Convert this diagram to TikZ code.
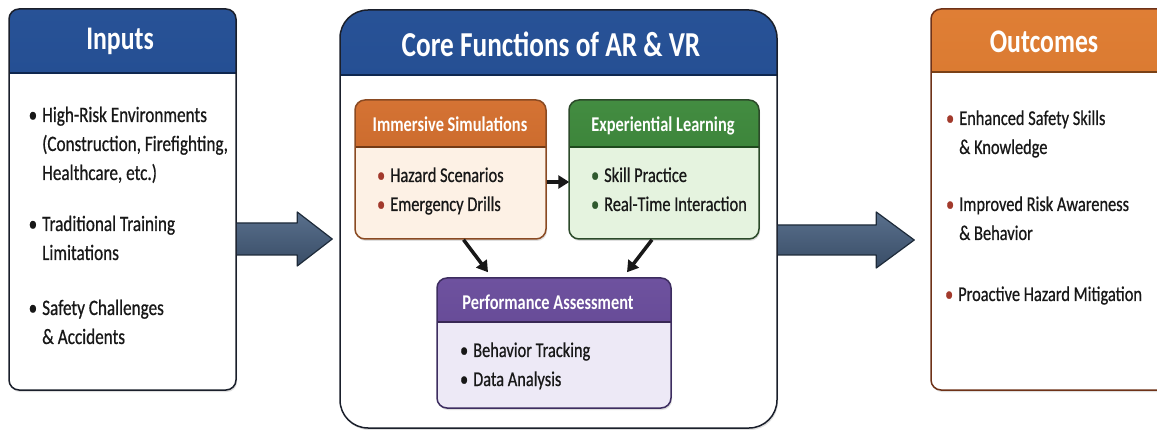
\documentclass[tikz,border=0pt]{standalone}
\usepackage{fontspec}
\setmainfont{Carlito}[FakeStretch=0.78, UprightFeatures={FakeBold=0.6}]
\usetikzlibrary{calc,fit,arrows.meta,shadows}

\definecolor{navyhdr}{HTML}{1A4790}
\definecolor{orangehdr}{HTML}{D26A27}
\definecolor{outhdr}{HTML}{DD7628}
\definecolor{greenhdr}{HTML}{378535}
\definecolor{purplehdr}{HTML}{654799}
\definecolor{orangebody}{HTML}{FDF1E5}
\definecolor{greenbody}{HTML}{E5F3DF}
\definecolor{purplebody}{HTML}{EDE9F6}
\definecolor{frame}{HTML}{1A1F2B}
\definecolor{orangeframe}{HTML}{8A4A22}
\definecolor{greenframe}{HTML}{2C4A2A}
\definecolor{purpleframe}{HTML}{3D2D60}
\definecolor{outframe}{HTML}{6E3218}
\definecolor{ink}{HTML}{181818}
\definecolor{redbullet}{HTML}{A23A2C}
\definecolor{greenbullet}{HTML}{2F5A2F}
\definecolor{slate}{HTML}{476080}
\definecolor{slatedark}{HTML}{1E2B3A}

% box with a coloured header band: name, corner, corner, header height,
% header colour, body colour, frame colour, corner radius
\newcommand\drawpanel[8]{%
  \node[panel, rounded corners=#8, draw=#7, fill=#6, fit={#2 #3},
    path picture={
      \shade[sharp corners, top color=#5!94!white, bottom color=#5!90!black]
        (path picture bounding box.north west) rectangle
        ([yshift=-#4]path picture bounding box.north east);
      \draw[sharp corners, #5!55!black, line width=1.6pt]
        ([yshift=-#4]path picture bounding box.north west) --
        ([yshift=-#4]path picture bounding box.north east);
    }] (#1) {};}

\newcommand\bl[1]{\llap{\textcolor{#1}{\textbullet}\hspace{5pt}}}

\tikzset{
  panel/.style={rectangle, inner sep=0pt, line width=1.5pt,
    drop shadow={shadow xshift=1pt, shadow yshift=-2pt, opacity=.25}},
  bigtitle/.style={anchor=base, inner sep=0pt, text=white, font=\fontsize{33}{38}\selectfont\bfseries},
  smalltitle/.style={anchor=base, inner sep=0pt, text=white, font=\fontsize{21}{25}\selectfont\bfseries},
  outeritem/.style={anchor=base west, inner sep=0pt, text=ink, font=\fontsize{22}{29}\selectfont},
  inneritem/.style={anchor=base west, inner sep=0pt, text=ink, font=\fontsize{21}{29}\selectfont},
  bigarrow/.style={line width=1.2pt, draw=slatedark, top color=slate!90!white, bottom color=slate!80!black, line join=round},
  flow/.style={line width=3.5pt, draw=ink, -{Triangle[length=11pt, width=13pt]}, shorten >=0pt},
}

\begin{document}
\begin{tikzpicture}[x=1pt, y=-1pt]
\useasboundingbox (0,0) rectangle (1157,430);

% outer panels
\drawpanel{inputs}{(9,9)}{(236,390)}{64pt}{navyhdr}{white}{frame}{10pt}
\drawpanel{core}{(340,10)}{(777,428)}{65pt}{navyhdr}{white}{frame}{28pt}
\drawpanel{outcomes}{(931,9)}{(1170,390)}{63pt}{outhdr}{white}{outframe}{10pt}

% big flow arrows between the panels
\coordinate (a1s) at (inputs.east |- 0,239);
\coordinate (a1t) at ($(core.west |- 0,239)+(-7,0)$);
\coordinate (a2s) at (core.east |- 0,240);
\coordinate (a2t) at ($(outcomes.west |- 0,240)+(-16,0)$);
\path[bigarrow] ($(a1s)+(0,-16)$) -- ($(a1t)+(-35,-16)$) -- ($(a1t)+(-35,-27)$) -- (a1t)
  -- ($(a1t)+(-35,27)$) -- ($(a1t)+(-35,16)$) -- ($(a1s)+(0,16)$);
\path[bigarrow] ($(a2s)+(0,-15)$) -- ($(a2t)+(-38,-15)$) -- ($(a2t)+(-38,-28)$) -- (a2t)
  -- ($(a2t)+(-38,28)$) -- ($(a2t)+(-38,15)$) -- ($(a2s)+(0,15)$);

% inner panels
\drawpanel{sim}{(355,100)}{(546,239)}{47pt}{orangehdr}{orangebody}{orangeframe}{10pt}
\drawpanel{learn}{(569,100)}{(759,239)}{47pt}{greenhdr}{greenbody}{greenframe}{10pt}
\drawpanel{assess}{(437,278)}{(671,408)}{44pt}{purplehdr}{purplebody}{purpleframe}{10pt}

% connectors between the inner panels
\draw[flow] (sim.east |- 0,182) -- ($(learn.west |- 0,182)+(1,0)$);
\draw[flow] ([xshift=13pt]sim.south) -- ([xshift=-66pt, yshift=5pt]assess.north);
\draw[flow] ([xshift=-12pt]learn.south) -- ([xshift=73pt, yshift=5pt]assess.north);

% titles
\node[bigtitle] (t-in) at (120,50) {Inputs};
\node[bigtitle, font=\fontsize{35}{40}\selectfont\bfseries] (t-core) at (551,57) {Core Functions of AR \& VR};
\node[bigtitle] (t-out) at (1044,53) {Outcomes};
\node[smalltitle] (t-sim) at (450,132) {Immersive Simulations};
\node[smalltitle] (t-learn) at (663,132) {Experiential Learning};
\node[smalltitle] (t-assess) at (548,310) {Performance Assessment};

% inputs
\node[outeritem] (in1) at (42,122) {\begin{tabular}[t]{@{}l@{}}\bl{ink}High-Risk Environments\\(Construction, Firefighting,\\Healthcare, etc.)\end{tabular}};
\node[outeritem] (in2) at (42,231) {\begin{tabular}[t]{@{}l@{}}\bl{ink}Traditional Training\\Limitations\end{tabular}};
\node[outeritem] (in3) at (42,315) {\begin{tabular}[t]{@{}l@{}}\bl{ink}Safety Challenges\\\& Accidents\end{tabular}};

% inner panel items
\node[inneritem] (sim-items) at (390,182) {\begin{tabular}[t]{@{}l@{}}\bl{redbullet}Hazard Scenarios\\\bl{redbullet}Emergency Drills\end{tabular}};
\node[inneritem] (learn-items) at (604,182) {\begin{tabular}[t]{@{}l@{}}\bl{greenbullet}Skill Practice\\\bl{greenbullet}Real-Time Interaction\end{tabular}};
\node[inneritem] (assess-items) at (473,357) {\begin{tabular}[t]{@{}l@{}}\bl{ink}Behavior Tracking\\\bl{ink}Data Analysis\end{tabular}};

% outcomes
\node[inneritem] (out1) at (959,125) {\begin{tabular}[t]{@{}l@{}}\bl{redbullet}Enhanced Safety Skills\\\& Knowledge\end{tabular}};
\node[inneritem] (out2) at (959,211) {\begin{tabular}[t]{@{}l@{}}\bl{redbullet}Improved Risk Awareness\\\& Behavior\end{tabular}};
\node[inneritem] (out3) at (958,301) {\begin{tabular}[t]{@{}l@{}}\bl{redbullet}Proactive Hazard Mitigation\end{tabular}};
\end{tikzpicture}
\end{document}
